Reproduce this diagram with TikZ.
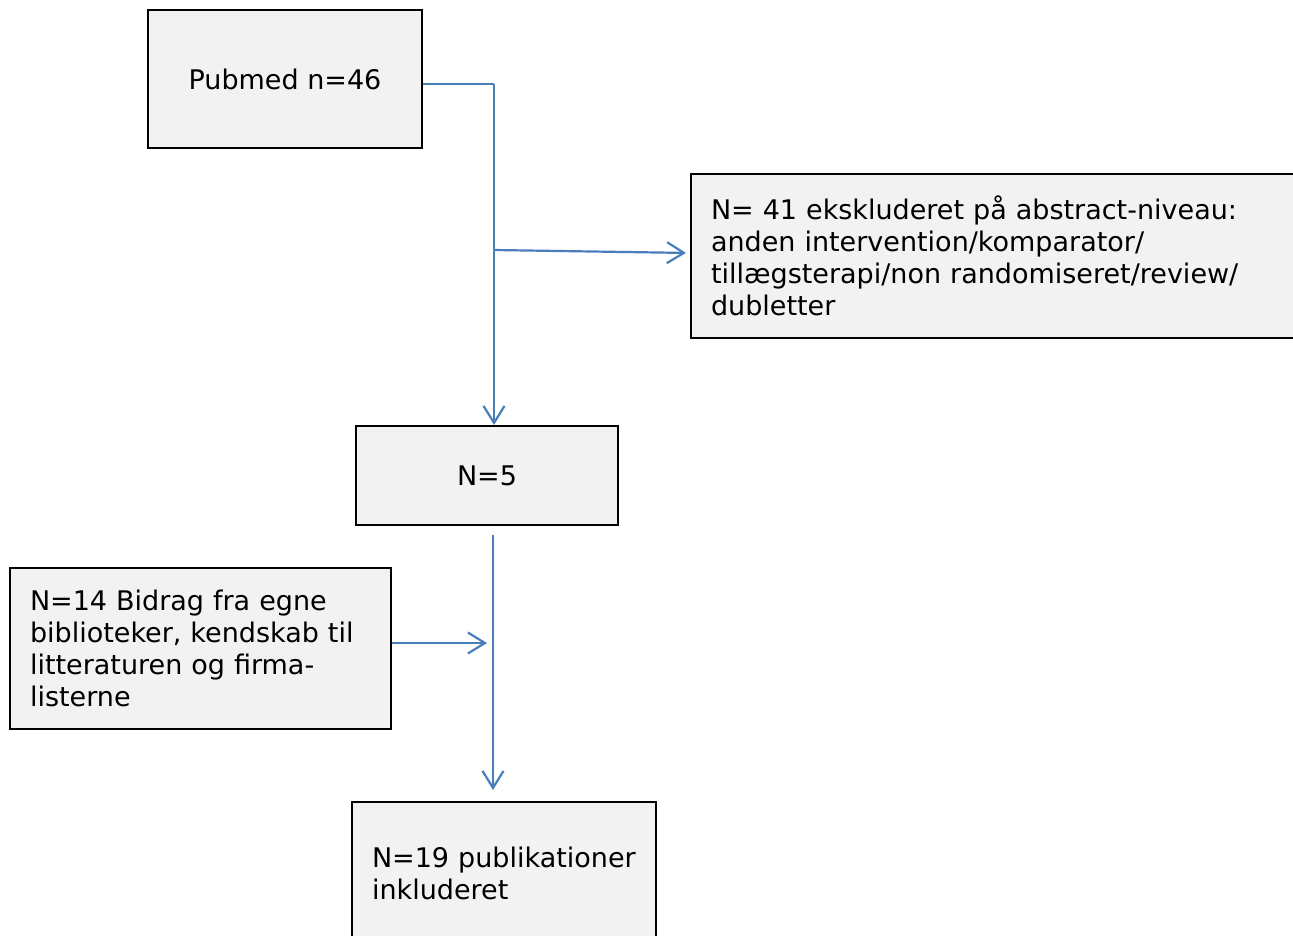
\documentclass[tikz,border=0pt]{standalone}
\usepackage{fontspec}
\setmainfont{DejaVu Sans}
\usetikzlibrary{arrows.meta}
\definecolor{boxfill}{HTML}{F2F2F2}
\definecolor{linkblue}{HTML}{4A7EBB}
\tikzset{
  box/.style={draw=black, line width=2pt, fill=boxfill, inner sep=0pt,
    font=\fontsize{27}{32}\selectfont},
  lbox/.style={box, align=left, inner xsep=20pt},
  cbox/.style={box, align=center},
  link/.style={draw=linkblue, line width=2.2pt,
    -{Straight Barb[length=17pt,width=21pt]}},
  plain/.style={draw=linkblue, line width=2.2pt}
}
\begin{document}
\begin{tikzpicture}[x=1pt,y=-1pt]
\useasboundingbox (0,0) rectangle (1293,936);
\begin{scope}
\clip (0,0) rectangle (1293,936);
\node[cbox, minimum width=274pt, minimum height=138pt] (pub) at (285,79) {Pubmed n=46};
\node[lbox, text width=580pt, minimum height=164pt, anchor=north west] (excl) at (690,173)
  {\mbox{N= 41 ekskluderet på abstract-niveau:}\\\mbox{anden intervention/komparator/}\\\mbox{tillægsterapi/non randomiseret/review/}\\\mbox{dubletter}};
\node[cbox, minimum width=262pt, minimum height=99pt] (n5) at (487,475.5) {N=5};
\node[lbox, text width=341pt, minimum height=161pt, anchor=north west] (n14) at (9,567)
  {\mbox{N=14 Bidrag fra egne}\\\mbox{biblioteker, kendskab til}\\\mbox{litteraturen og firma-}\\\mbox{listerne}};
\node[lbox, text width=264pt, minimum height=142pt, anchor=north west] (n19) at (351,801)
  {\mbox{N=19 publikationer}\\\mbox{inkluderet}};
\end{scope}
\coordinate (j1) at (494,84);
\coordinate (j2) at (494,250);
\coordinate (j3) at (493,535);
\coordinate (m) at (487,643);
\draw[plain] ([yshift=-5pt]pub.east) -- (j1);
\draw[link] (j1) -- (j1 |- n5.north);
\draw[link, shorten >=4pt] (j2) -- ([yshift=3pt]excl.west);
\draw[link, shorten >=11pt] (j3) -- (j3 |- n19.north);
\draw[link] (n14.east |- m) -- (m);
\end{tikzpicture}
\end{document}
